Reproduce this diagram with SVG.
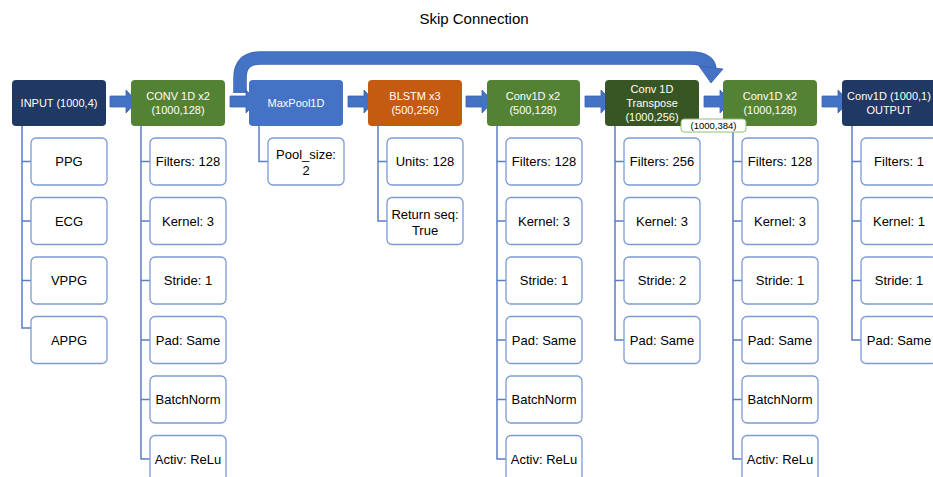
<svg xmlns="http://www.w3.org/2000/svg" width="933" height="477" viewBox="0 0 933 477">
<style>
.nt{font-family:"Liberation Sans",Arial,sans-serif;font-size:11px;fill:#fff;text-anchor:middle}
.ct{font-family:"Liberation Sans",Arial,sans-serif;font-size:13px;fill:#000;text-anchor:middle}
.ch{fill:#fff;stroke:#7C9BD6;stroke-width:1.3}
.tr{fill:none;stroke:#5B7EC6;stroke-width:1.5}
.ar{fill:#4472C4;stroke:#3A63AD;stroke-width:0.8}
</style>
<defs>
<polygon id="blk" points="0,-5.5 16,-5.5 16,-11.5 27,0 16,11.5 16,5.5 0,5.5"/>
</defs>
<rect width="933" height="477" fill="#fff"/>
<text x="474" y="24" style="font-family:'Liberation Sans',Arial,sans-serif;font-size:15px;fill:#000" text-anchor="middle">Skip Connection</text>

<g id="connectors">
<!-- tree lines -->
<path class="tr" d="M22,126V328H31M22,161.5H31M22,221H31M22,280.5H31"/>
<path class="tr" d="M141,126V459H150M141,161.5H150M141,221H150M141,280.5H150M141,340H150M141,399.5H150"/>
<path class="tr" d="M259,126V161.5H268"/>
<path class="tr" d="M378,126V221H387M378,161.5H387"/>
<path class="tr" d="M497,126V459H506M497,161.5H506M497,221H506M497,280.5H506M497,340H506M497,399.5H506"/>
<path class="tr" d="M615,126V340H624M615,161.5H624M615,221H624M615,280.5H624"/>
<path class="tr" d="M733,126V459H742M733,161.5H742M733,221H742M733,280.5H742M733,340H742M733,399.5H742"/>
<path class="tr" d="M852,126V340H861M852,161.5H861M852,221H861M852,280.5H861"/>
<!-- skip connection -->
<path d="M240,93V78Q240,58 260,58H690Q708,58 710,69" fill="none" stroke="#3A63AD" stroke-width="13.5"/>
<path d="M240,93V78Q240,58 260,58H690Q708,58 710,69" fill="none" stroke="#4472C4" stroke-width="12"/>
<polygon class="ar" points="699,66 723,69 711,83"/>
<!-- block arrows -->
<use href="#blk" class="ar" x="110" y="101.5"/>
<use href="#blk" class="ar" x="230" y="101.5"/>
<use href="#blk" class="ar" x="348" y="101.5"/>
<use href="#blk" class="ar" x="466" y="101.5"/>
<use href="#blk" class="ar" x="585" y="101.5"/>
<use href="#blk" class="ar" x="704" y="101.5"/>
<use href="#blk" class="ar" x="822" y="101.5"/>
</g>

<g id="n-input"><rect x="12" y="80" width="94" height="46" rx="4" fill="#203864"/><text class="nt" x="59" y="107">INPUT (1000,4)</text></g>
<g id="n-conv1"><rect x="131" y="80" width="94" height="46" rx="4" fill="#548235"/><text class="nt" x="178" y="100">CONV 1D x2</text><text class="nt" x="178" y="114">(1000,128)</text></g>
<g id="n-maxpool"><rect x="249" y="80" width="94" height="46" rx="4" fill="#4472C4"/><text class="nt" x="296" y="107">MaxPool1D</text></g>
<g id="n-blstm"><rect x="368" y="80" width="94" height="46" rx="4" fill="#C55A11"/><text class="nt" x="415" y="100">BLSTM x3</text><text class="nt" x="415" y="114">(500,256)</text></g>
<g id="n-conv2"><rect x="487" y="80" width="93" height="46" rx="4" fill="#548235"/><text class="nt" x="533" y="100">Conv1D x2</text><text class="nt" x="533" y="114">(500,128)</text></g>
<g id="n-transpose"><rect x="605" y="80" width="94" height="46" rx="4" fill="#375623"/><text class="nt" x="652" y="93">Conv 1D</text><text class="nt" x="652" y="107">Transpose</text><text class="nt" x="652" y="121">(1000,256)</text></g>
<g id="n-conv3"><rect x="723" y="80" width="94" height="46" rx="4" fill="#548235"/><text class="nt" x="770" y="100">Conv1D x2</text><text class="nt" x="770" y="114">(1000,128)</text></g>
<g id="n-output"><rect x="842" y="80" width="96" height="46" rx="4" fill="#203864"/><text class="nt" x="889" y="100">Conv1D (1000,1)</text><text class="nt" x="889" y="114">OUTPUT</text></g>
<g id="lbl-concat"><rect x="681" y="119" width="65" height="13" rx="3" fill="#fff" stroke="#8DC270" stroke-width="1"/><text x="713.5" y="129" text-anchor="middle" style="font-family:'Liberation Sans',Arial,sans-serif;font-size:9.5px;fill:#000">(1000,384)</text></g>

<g id="c-input">
<rect class="ch" x="31" y="138" width="76" height="47" rx="5"/><text class="ct" x="69" y="166">PPG</text>
<rect class="ch" x="31" y="197.5" width="76" height="47" rx="5"/><text class="ct" x="69" y="225.5">ECG</text>
<rect class="ch" x="31" y="257" width="76" height="47" rx="5"/><text class="ct" x="69" y="285">VPPG</text>
<rect class="ch" x="31" y="316.5" width="76" height="47" rx="5"/><text class="ct" x="69" y="344.5">APPG</text>
</g>
<g id="c-conv1">
<rect class="ch" x="150" y="138" width="76" height="47" rx="5"/><text class="ct" x="188" y="166">Filters: 128</text>
<rect class="ch" x="150" y="197.5" width="76" height="47" rx="5"/><text class="ct" x="188" y="225.5">Kernel: 3</text>
<rect class="ch" x="150" y="257" width="76" height="47" rx="5"/><text class="ct" x="188" y="285">Stride: 1</text>
<rect class="ch" x="150" y="316.5" width="76" height="47" rx="5"/><text class="ct" x="188" y="344.5">Pad: Same</text>
<rect class="ch" x="150" y="376" width="76" height="47" rx="5"/><text class="ct" x="188" y="404">BatchNorm</text>
<rect class="ch" x="150" y="435.5" width="76" height="47" rx="5"/><text class="ct" x="188" y="463.5">Activ: ReLu</text>
</g>
<g id="c-maxpool">
<rect class="ch" x="268" y="138" width="76" height="47" rx="5"/><text class="ct" x="306" y="159">Pool_size:</text><text class="ct" x="306" y="175">2</text>
</g>
<g id="c-blstm">
<rect class="ch" x="387" y="138" width="76" height="47" rx="5"/><text class="ct" x="425" y="166">Units: 128</text>
<rect class="ch" x="387" y="197.5" width="76" height="47" rx="5"/><text class="ct" x="425" y="218.5">Return seq:</text><text class="ct" x="425" y="234.5">True</text>
</g>
<g id="c-conv2">
<rect class="ch" x="506" y="138" width="76" height="47" rx="5"/><text class="ct" x="544" y="166">Filters: 128</text>
<rect class="ch" x="506" y="197.5" width="76" height="47" rx="5"/><text class="ct" x="544" y="225.5">Kernel: 3</text>
<rect class="ch" x="506" y="257" width="76" height="47" rx="5"/><text class="ct" x="544" y="285">Stride: 1</text>
<rect class="ch" x="506" y="316.5" width="76" height="47" rx="5"/><text class="ct" x="544" y="344.5">Pad: Same</text>
<rect class="ch" x="506" y="376" width="76" height="47" rx="5"/><text class="ct" x="544" y="404">BatchNorm</text>
<rect class="ch" x="506" y="435.5" width="76" height="47" rx="5"/><text class="ct" x="544" y="463.5">Activ: ReLu</text>
</g>
<g id="c-transpose">
<rect class="ch" x="624" y="138" width="76" height="47" rx="5"/><text class="ct" x="662" y="166">Filters: 256</text>
<rect class="ch" x="624" y="197.5" width="76" height="47" rx="5"/><text class="ct" x="662" y="225.5">Kernel: 3</text>
<rect class="ch" x="624" y="257" width="76" height="47" rx="5"/><text class="ct" x="662" y="285">Stride: 2</text>
<rect class="ch" x="624" y="316.5" width="76" height="47" rx="5"/><text class="ct" x="662" y="344.5">Pad: Same</text>
</g>
<g id="c-conv3">
<rect class="ch" x="742" y="138" width="76" height="47" rx="5"/><text class="ct" x="780" y="166">Filters: 128</text>
<rect class="ch" x="742" y="197.5" width="76" height="47" rx="5"/><text class="ct" x="780" y="225.5">Kernel: 3</text>
<rect class="ch" x="742" y="257" width="76" height="47" rx="5"/><text class="ct" x="780" y="285">Stride: 1</text>
<rect class="ch" x="742" y="316.5" width="76" height="47" rx="5"/><text class="ct" x="780" y="344.5">Pad: Same</text>
<rect class="ch" x="742" y="376" width="76" height="47" rx="5"/><text class="ct" x="780" y="404">BatchNorm</text>
<rect class="ch" x="742" y="435.5" width="76" height="47" rx="5"/><text class="ct" x="780" y="463.5">Activ: ReLu</text>
</g>
<g id="c-output">
<rect class="ch" x="861" y="138" width="76" height="47" rx="5"/><text class="ct" x="899" y="166">Filters: 1</text>
<rect class="ch" x="861" y="197.5" width="76" height="47" rx="5"/><text class="ct" x="899" y="225.5">Kernel: 1</text>
<rect class="ch" x="861" y="257" width="76" height="47" rx="5"/><text class="ct" x="899" y="285">Stride: 1</text>
<rect class="ch" x="861" y="316.5" width="76" height="47" rx="5"/><text class="ct" x="899" y="344.5">Pad: Same</text>
</g>
</svg>
